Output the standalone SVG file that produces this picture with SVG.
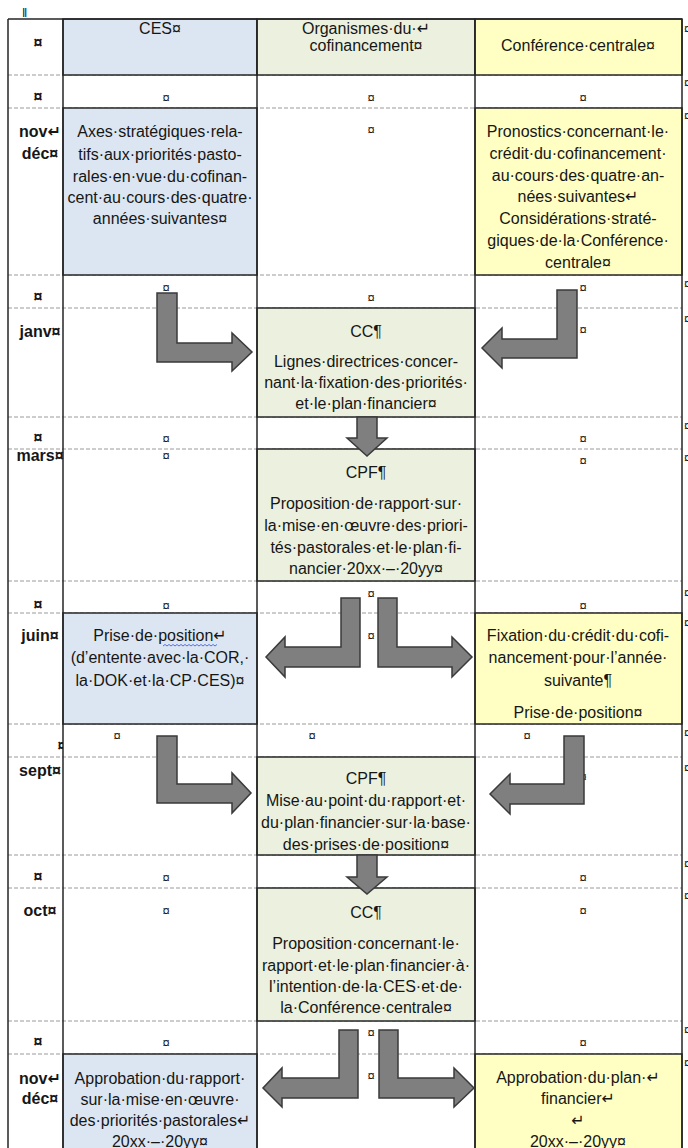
<svg xmlns="http://www.w3.org/2000/svg" width="688" height="1148" viewBox="0 0 688 1148">
<defs>
<style>
.t{font-family:"Liberation Sans",Arial,"DejaVu Sans",sans-serif;font-size:16px;fill:#161616;text-anchor:middle}
.b{font-weight:bold}
.m{font-family:"Liberation Sans",Arial,"DejaVu Sans",sans-serif;font-size:13px;fill:#161616;text-anchor:middle}
.e{font-family:"Liberation Sans",Arial,"DejaVu Sans",sans-serif;font-size:13px;fill:#161616}
.sol{stroke:#262626;stroke-width:1.5;fill:none}
.dash{stroke:#9a9a9a;stroke-width:1;stroke-dasharray:4 2;fill:none}
.blue{fill:#dce6f2;stroke:#262626;stroke-width:1.5}
.green{fill:#ebf1de;stroke:#262626;stroke-width:1.5}
.yellow{fill:#ffffc4;stroke:#262626;stroke-width:1.5}
.arr{fill:#7f7f7f;stroke:#3a3a3a;stroke-width:1.5;stroke-linejoin:miter}
</style>
<clipPath id="c0"><rect x="8" y="724" width="55" height="33"/></clipPath>
</defs>
<rect x="0" y="0" width="688" height="1148" fill="#ffffff"/>
<text class="e" x="22" y="17">‖</text>

<g id="grid">
<path class="dash" d="M8 75H682M8 108H682M8 275H682M8 308H682M8 417H682M8 449H682M8 581H682M8 613H682M8 724H682M8 757H682M8 855H682M8 888H682M8 1021H682M8 1054H682"/>
</g>

<g id="hdr-ces"><rect class="blue" x="63" y="19" width="194" height="56"/><text class="t" x="160" y="33.5">CES¤</text></g>
<g id="hdr-org"><rect class="green" x="257" y="19" width="218" height="56"/><text class="t" x="366" y="33.5">Organismes·du·↵</text><text class="t" x="366" y="50.5">cofinancement¤</text></g>
<g id="hdr-conf"><rect class="yellow" x="475" y="19" width="207" height="56"/><text class="t" x="578" y="50.5">Conférence·centrale¤</text></g>

<g id="ces-novdec"><rect class="blue" x="63" y="108" width="194" height="167"/>
<text class="t" x="160" y="136.5">Axes·stratégiques·rela-</text>
<text class="t" x="160" y="159.5">tifs·aux·priorités·pasto-</text>
<text class="t" x="160" y="181.5">rales·en·vue·du·cofinan-</text>
<text class="t" x="160" y="202.5">cent·au·cours·des·quatre·</text>
<text class="t" x="160" y="223.5">années·suivantes¤</text></g>
<g id="conf-novdec"><rect class="yellow" x="475" y="108" width="207" height="167"/>
<text class="t" x="578" y="136.5">Pronostics·concernant·le·</text>
<text class="t" x="578" y="158.5">crédit·du·cofinancement·</text>
<text class="t" x="578" y="180.5">au·cours·des·quatre·an-</text>
<text class="t" x="578" y="201.5">nées·suivantes↵</text>
<text class="t" x="578" y="223.5">Considérations·straté-</text>
<text class="t" x="578" y="245.5">giques·de·la·Conférence·</text>
<text class="t" x="578" y="267.5">centrale¤</text></g>

<g id="cc-janv"><rect class="green" x="257" y="308" width="218" height="109"/>
<text class="t" x="366" y="336.5">CC¶</text>
<text class="t" x="366" y="366.5">Lignes·directrices·concer-</text>
<text class="t" x="366" y="387.5">nant·la·fixation·des·priorités·</text>
<text class="t" x="366" y="408.5">et·le·plan·financier¤</text></g>

<g id="cpf-mars"><rect class="green" x="257" y="449" width="218" height="132"/>
<text class="t" x="366" y="477.5">CPF¶</text>
<text class="t" x="366" y="508.5">Proposition·de·rapport·sur·</text>
<text class="t" x="366" y="530.5">la·mise·en·œuvre·des·priori-</text>
<text class="t" x="366" y="552.5">tés·pastorales·et·le·plan·fi-</text>
<text class="t" x="366" y="573.5">nancier·20xx·–·20yy¤</text></g>

<g id="ces-juin"><rect class="blue" x="63" y="613" width="194" height="111"/>
<text class="t" x="160" y="640.5">Prise·de·position↵</text>
<path d="M163 646l2 -1.5l2 1.5l2 -1.5l2 1.5l2 -1.5l2 1.5l2 -1.5l2 1.5l2 -1.5l2 1.5l2 -1.5l2 1.5l2 -1.5l2 1.5l2 -1.5l2 1.5l2 -1.5l2 1.5l2 -1.5l2 1.5l2 -1.5l2 1.5l2 -1.5l2 1.5l2 -1.5l2 1.5l2 -1.5" fill="none" stroke="#3050e0" stroke-width="0.8"/>
<text class="t" x="160" y="662.5">(d’entente·avec·la·COR,·</text>
<text class="t" x="160" y="685.5">la·DOK·et·la·CP·CES)¤</text></g>
<g id="conf-juin"><rect class="yellow" x="475" y="613" width="207" height="111"/>
<text class="t" x="578" y="640.5">Fixation·du·crédit·du·cofi-</text>
<text class="t" x="578" y="662.5">nancement·pour·l’année·</text>
<text class="t" x="578" y="685.5">suivante¶</text>
<text class="t" x="578" y="717.5">Prise·de·position¤</text></g>

<g id="cpf-sept"><rect class="green" x="257" y="757" width="218" height="98"/>
<text class="t" x="366" y="783.5">CPF¶</text>
<text class="t" x="366" y="805.5">Mise·au·point·du·rapport·et·</text>
<text class="t" x="366" y="827.5">du·plan·financier·sur·la·base·</text>
<text class="t" x="366" y="849.5">des·prises·de·position¤</text></g>

<g id="cc-oct"><rect class="green" x="257" y="888" width="218" height="133"/>
<text class="t" x="366" y="917.5">CC¶</text>
<text class="t" x="366" y="948.5">Proposition·concernant·le·</text>
<text class="t" x="366" y="970.5">rapport·et·le·plan·financier·à·</text>
<text class="t" x="366" y="991.5">l’intention·de·la·CES·et·de·</text>
<text class="t" x="366" y="1012.5">la·Conférence·centrale¤</text></g>

<g id="ces-novdec2"><rect class="blue" x="63" y="1054" width="194" height="110"/>
<text class="t" x="160" y="1083.5">Approbation·du·rapport·</text>
<text class="t" x="160" y="1104.5">sur·la·mise·en·œuvre·</text>
<text class="t" x="160" y="1125.5">des·priorités·pastorales↵</text>
<text class="t" x="160" y="1147">20xx·–·20yy¤</text></g>
<g id="conf-novdec2"><rect class="yellow" x="475" y="1054" width="207" height="110"/>
<text class="t" x="578" y="1082.5">Approbation·du·plan·↵</text>
<text class="t" x="578" y="1103.5">financier↵</text>
<text class="t" x="578" y="1125.5">↵</text>
<text class="t" x="578" y="1147">20xx·–·20yy¤</text></g>

<g id="frame">
<path class="sol" d="M8 19H682M8 19V1148M63 19V1148M257 19V1148M475 19V1148M682 19V1148"/>
</g>

<g id="months">
<text class="t b" x="38" y="48">¤</text>
<text class="t b" x="38" y="102">¤</text>
<text class="t b" x="40" y="136.5">nov↵</text>
<text class="t b" x="40" y="158.5">déc¤</text>
<text class="t b" x="38" y="302">¤</text>
<text class="t b" x="40" y="336.5">janv¤</text>
<text class="t b" x="38" y="443">¤</text>
<text class="t b" x="40" y="460.5">mars¤</text>
<text class="t b" x="38" y="610">¤</text>
<text class="t b" x="40" y="640.5">juin¤</text>
<text class="t b" x="62" y="751" clip-path="url(#c0)">¤</text>
<text class="t b" x="40" y="775.5">sept¤</text>
<text class="t b" x="38" y="882">¤</text>
<text class="t b" x="40" y="915.5">oct¤</text>
<text class="t b" x="38" y="1047">¤</text>
<text class="t b" x="40" y="1083.5">nov↵</text>
<text class="t b" x="40" y="1103.5">déc¤</text>
</g>

<g id="cellmarks">
<text class="m" x="166" y="102">¤</text><text class="m" x="371" y="102">¤</text><text class="m" x="583" y="102">¤</text>
<text class="m" x="371" y="134">¤</text>
<text class="m" x="166" y="292">¤</text><text class="m" x="371" y="302">¤</text><text class="m" x="583" y="292">¤</text>
<text class="m" x="166" y="335">¤</text><text class="m" x="583" y="334">¤</text>
<text class="m" x="166" y="443">¤</text><text class="m" x="583" y="443">¤</text>
<text class="m" x="166" y="460">¤</text><text class="m" x="583" y="465">¤</text>
<text class="m" x="166" y="610">¤</text><text class="m" x="371" y="598">¤</text><text class="m" x="583" y="610">¤</text>
<text class="m" x="371" y="640">¤</text>
<text class="m" x="117" y="740">¤</text><text class="m" x="312" y="740">¤</text><text class="m" x="527" y="740">¤</text>
<text class="m" x="166" y="781">¤</text><text class="m" x="583" y="781">¤</text>
<text class="m" x="166" y="882">¤</text><text class="m" x="583" y="882">¤</text>
<text class="m" x="166" y="915">¤</text><text class="m" x="583" y="915">¤</text>
<text class="m" x="166" y="1047">¤</text><text class="m" x="371" y="1037">¤</text><text class="m" x="583" y="1047">¤</text>
<text class="m" x="371" y="1080">¤</text>
</g>

<g id="rowmarks">
<text class="e" x="684" y="33">¤</text><text class="e" x="684" y="87">¤</text><text class="e" x="684" y="120">¤</text>
<text class="e" x="684" y="288">¤</text><text class="e" x="684" y="323">¤</text>
<text class="e" x="684" y="430">¤</text><text class="e" x="684" y="462">¤</text>
<text class="e" x="684" y="597">¤</text><text class="e" x="684" y="627">¤</text>
<text class="e" x="684" y="737">¤</text><text class="e" x="684" y="772">¤</text>
<text class="e" x="684" y="868">¤</text><text class="e" x="684" y="900">¤</text>
<text class="e" x="684" y="1034">¤</text><text class="e" x="684" y="1067">¤</text>
</g>

<g id="connectors">
<polygon class="arr" points="157,293 177,293 177,343 232,343 232,333 252,352 232,371 232,362 157,362"/>
<polygon class="arr" points="557,290 577,290 577,358 502,358 502,368 482,348 502,328 502,339 557,339"/>
<polygon class="arr" points="357,417 377,417 377,438 387,438 367,456 347,438 357,438"/>
<polygon class="arr" points="341,598 360,598 360,667 285,667 285,677 266,657 285,637 285,647 341,647"/>
<polygon class="arr" points="378,598 397,598 397,647 452,647 452,637 472,657 452,677 452,667 378,667"/>
<polygon class="arr" points="157,736 177,736 177,784 232,784 232,773 251,793 232,813 232,803 157,803"/>
<polygon class="arr" points="564,736 584,736 584,804 510,804 510,814 490,794 510,774 510,784 564,784"/>
<polygon class="arr" points="357,855 377,855 377,877 387,877 367,894 347,877 357,877"/>
<polygon class="arr" points="339,1030 358,1030 358,1098 282,1098 282,1107 263,1088 282,1068 282,1078 339,1078"/>
<polygon class="arr" points="379,1030 398,1030 398,1078 454,1078 454,1068 474,1088 454,1107 454,1098 379,1098"/>
</g>
</svg>
